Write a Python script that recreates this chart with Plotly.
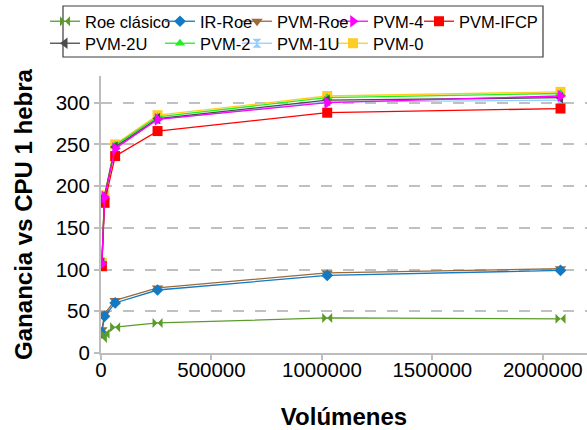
import plotly.graph_objects as go

volumes = [4000, 16000, 64000, 256000, 1024000, 2080000]

series_names = ["Roe clásico", "IR-Roe", "PVM-Roe", "PVM-4", "PVM-IFCP",
                "PVM-2U", "PVM-2", "PVM-1U", "PVM-0"]

roe_clasico = [18, 23, 31, 36, 42, 41]
ir_roe = [24, 44, 60, 75.5, 93, 99]
pvm_roe = [28, 47, 63, 78, 96, 101]
pvm_4 = [107, 187, 245, 280, 300, 308]
pvm_ifcp = [104, 180, 236, 266, 288, 293]
pvm_2u = [108, 188, 247, 281, 303, 306]
pvm_2 = [108, 188, 249, 283, 306, 311]
pvm_1u = [107, 187, 246, 280, 301, 303]
pvm_0 = [108, 189, 250, 285, 308, 313]

x_ticks = [0, 500000, 1000000, 1500000, 2000000]
y_ticks = [0, 50, 100, 150, 200, 250, 300]

values = [roe_clasico, ir_roe, pvm_roe, pvm_4, pvm_ifcp, pvm_2u, pvm_2, pvm_1u, pvm_0]
colors = ["#5a9c2a", "#1279c4", "#9a6a3a", "#ff00ff", "#ff0000",
          "#4a4a4a", "#22ee22", "#90ceff", "#ffcc22"]
symbols = ["bowtie", "diamond", "triangle-down", "triangle-right", "square",
           "triangle-left", "triangle-up", "hourglass", "square"]
sizes = [10, 9, 10, 11, 10, 10, 9, 9, 10]

L, R, T, B = 101, 0, 76, 77
W, H = 587, 430
pw = W - L - R
ph = H - T - B

def px_x(p):
    return (p - L) / pw

def px_y(p):
    return (H - B - p) / ph

# legend grid (text start x in px, row top y in px)
col_text_px = [88, 203, 280, 376, 462]
row_top_px = [4, 26]
TEXT_OFFSET = 43

fig = go.Figure()
legends = {}
# draw later series first so earlier ones sit on top
for i in reversed(range(len(series_names))):
    lid = "legend" if i == 0 else f"legend{i + 1}"
    col = i % 5
    row = i // 5
    legends[lid] = dict(
        x=px_x(col_text_px[col] - TEXT_OFFSET), y=px_y(row_top_px[row]),
        xanchor="left", yanchor="top", orientation="v", visible=True,
        bgcolor="rgba(0,0,0,0)", borderwidth=0, itemwidth=30,
        font=dict(family="Liberation Sans, Arial", size=16.5, color="#000"),
    )
    fig.add_trace(go.Scatter(
        x=volumes, y=values[i], name=series_names[i], mode="lines+markers",
        line=dict(color=colors[i], width=1.3),
        marker=dict(symbol=symbols[i], size=sizes[i], color=colors[i],
                    line=dict(width=0)),
        legend=lid, showlegend=True,
    ))

fig.update_layout(
    width=W, height=H,
    showlegend=True,
    margin=dict(l=L, r=R, t=T, b=B),
    paper_bgcolor="white", plot_bgcolor="white",
    font=dict(family="Liberation Sans, Arial", color="#000"),
    **legends,
    xaxis=dict(
        range=[0, 2200000], tickvals=x_ticks, tickformat="d",
        showgrid=False, zeroline=False,
        showline=True, linecolor="#bdbdbd", linewidth=2,
        ticks="outside", ticklen=5, tickcolor="#bdbdbd", tickwidth=1.5,
        ticklabelstandoff=-8,
        tickfont=dict(size=20.5, color="#000"),
        title=dict(text="<b>Volúmenes</b>", font=dict(size=24, color="#000"), standoff=30),
    ),
    yaxis=dict(
        range=[0, 332], tickvals=y_ticks,
        showgrid=True, gridcolor="#c0c0c0", gridwidth=1.5, griddash="11px,11px",
        zeroline=False,
        showline=True, linecolor="#bdbdbd", linewidth=2,
        ticks="outside", ticklen=5, tickcolor="#bdbdbd", tickwidth=1.5,
        tickfont=dict(size=20.5, color="#000"),
        title=dict(text="<b>Ganancia vs CPU 1 hebra</b>", font=dict(size=24, color="#000"), standoff=16),
    ),
    shapes=[dict(type="rect", xref="paper", yref="paper",
                 x0=px_x(63), x1=px_x(543), y0=px_y(57), y1=px_y(6),
                 line=dict(color="#3c3c3c", width=1.2), fillcolor="rgba(0,0,0,0)",
                 layer="above")],
)

fig.write_html("out.html",
               config={"displayModeBar": False},
               post_script="document.body.style.margin='0px';document.body.style.padding='0px';")
